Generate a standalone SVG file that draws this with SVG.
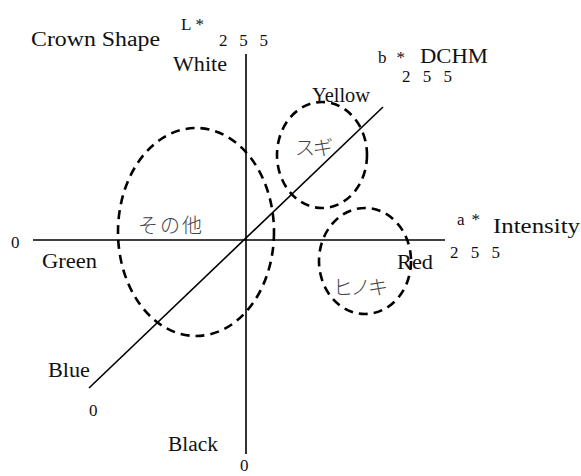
<svg xmlns="http://www.w3.org/2000/svg" width="581" height="476" viewBox="0 0 581 476">
<style>
text{font-family:"Liberation Serif","Noto Sans CJK JP",serif;fill:#111;font-size:20px}
.s{font-size:17px}
.m{font-size:17px}
.j{font-family:"Noto Sans CJK JP",sans-serif;font-size:20px;fill:#444;font-weight:300}
.ax{stroke:#000;stroke-width:1.6;fill:none}
.el{stroke:#000;stroke-width:2.6;fill:none;stroke-dasharray:9 6}
</style>
<rect width="581" height="476" fill="#fff"/>
<g id="connectors">
<line class="ax" x1="246" y1="54" x2="246" y2="454"/>
<line class="ax" x1="33" y1="240" x2="445" y2="240"/>
<line class="ax" x1="89" y1="388" x2="383" y2="107"/>
</g>
<g id="sonota"><ellipse class="el" cx="196" cy="232" rx="78" ry="104"/><text class="j" x="138" y="233" textLength="64">その他</text></g>
<g id="sugi"><ellipse class="el" cx="322" cy="155" rx="45" ry="53"/><text class="j" x="295" y="155" textLength="38">スギ</text></g>
<g id="hinoki"><ellipse class="el" cx="365" cy="261" rx="46" ry="53"/><text class="j" x="333" y="295" textLength="55">ヒノキ</text></g>
<g id="labels">
<text x="31" y="46" textLength="129" lengthAdjust="spacingAndGlyphs">Crown Shape</text>
<text class="m" x="181" y="30" textLength="23">L*</text>
<text class="s" x="219" y="46" xml:space="preserve" textLength="49">2 5 5</text>
<text x="173" y="71" textLength="54" lengthAdjust="spacingAndGlyphs">White</text>
<text class="m" x="378" y="63" textLength="27">b*</text>
<text x="420" y="63" textLength="68" lengthAdjust="spacingAndGlyphs">DCHM</text>
<text class="s" x="402" y="82" xml:space="preserve" textLength="50">2 5 5</text>
<text x="312" y="102" textLength="58" lengthAdjust="spacingAndGlyphs">Yellow</text>
<text class="s" x="11" y="248">0</text>
<text x="42" y="268" textLength="55" lengthAdjust="spacingAndGlyphs">Green</text>
<text class="m" x="457" y="225" textLength="23">a*</text>
<text x="493" y="233" textLength="87" lengthAdjust="spacingAndGlyphs">Intensity</text>
<text class="s" x="450" y="258" xml:space="preserve" textLength="50">2 5 5</text>
<text x="397" y="269" textLength="36" lengthAdjust="spacingAndGlyphs">Red</text>
<text x="48" y="377" textLength="42" lengthAdjust="spacingAndGlyphs">Blue</text>
<text class="s" x="89" y="416">0</text>
<text x="168" y="451" textLength="50" lengthAdjust="spacingAndGlyphs">Black</text>
<text class="s" x="240" y="471">0</text>
</g>
</svg>
